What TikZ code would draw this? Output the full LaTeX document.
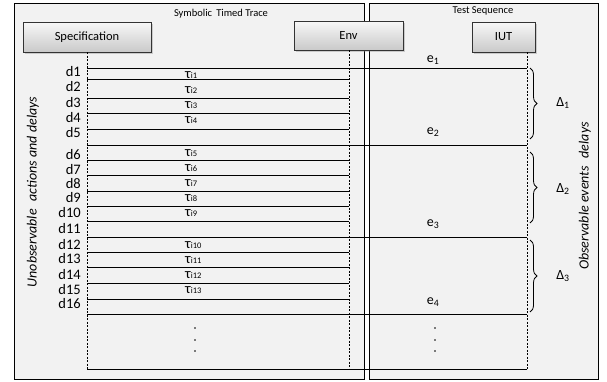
\documentclass[tikz,border=0pt]{standalone}
\usepackage{fontspec}
\setmainfont{Carlito}
\usetikzlibrary{shadows,decorations.pathreplacing}

\newcommand{\tauidx}[1]{{\fontsize{14.5}{15}\selectfont τ}\raisebox{-0.8pt}{\fontsize{8.5}{9}\selectfont i#1}}

\tikzset{
    panel/.style={draw=black, fill=gray!10, line width=0.8pt},
    lifebox/.style={rectangle, draw=black!80, top color=gray!6, bottom color=gray!42,
        drop shadow={opacity=0.35, shadow xshift=1.5pt, shadow yshift=-1.5pt},
        font=\fontsize{12.5}{14}\selectfont},
    lifeline/.style={dash pattern=on 2pt off 1.5pt, line width=0.7pt},
    msg/.style={line width=0.8pt},
    dlab/.style={anchor=east, inner sep=0pt, font=\fontsize{14.5}{15}\selectfont},
    tlab/.style={inner sep=0pt, font=\fontsize{13}{14}\selectfont},
    elab/.style={inner sep=0pt, font=\fontsize{14}{15}\selectfont},
    tbrace/.style={decorate, decoration={brace, amplitude=7pt, aspect=0.5}, line width=0.8pt},
    vlab/.style={rotate=90, inner sep=0pt, font=\itshape\fontsize{14}{15}\selectfont}
}

\begin{document}
\begin{tikzpicture}[x=1pt, y=-1pt]
    \useasboundingbox (0,0) rectangle (607,381);

    %Panels
    \draw[panel] (14,3) rectangle (364,379);
    \draw[panel] (369,3) rectangle (598,379);
    \node[font=\fontsize{10.5}{12}\selectfont] at (221,14) (ttitle) {Symbolic\, Timed Trace};
    \node[font=\fontsize{10.5}{12}\selectfont] at (483,11) (stitle) {Test Sequence};

    %Nodes
    \node[lifebox, minimum width=128, minimum height=30] at (87,37) (spec) {Specification};
    \node[lifebox, minimum width=109, minimum height=29] at (348.5,35.5) (env) {Env};
    \node[lifebox, minimum width=63, minimum height=30] at (503.5,37) (iut) {IUT};

    \coordinate (specEnd) at (87,369);
    \coordinate (envEnd) at (349,369);
    \coordinate (iutTop) at (527,52);
    \coordinate (iutEnd) at (527,369);

    %Lifelines
    \draw[lifeline] (spec.south) -- (specEnd);
    \draw[lifeline] (env.south -| envEnd) -- (envEnd);
    \draw[lifeline] (iutTop) -- (iutEnd);

    %Lines
    \foreach \y in {79,98,113,129,160,175,191,206,221,252,267,283,299}
        \draw[msg] (specEnd |- 0,\y) -- (envEnd |- 0,\y);
    \foreach \y in {68,145,237,314,369}
        \draw[msg] (specEnd |- 0,\y) -- (iutEnd |- 0,\y);

    %Delays
    \foreach \d/\y in {1/72,2/87,3/103,4/118,5/133,6/155,7/170,8/184,9/198,10/213,
                       11/229,12/245,13/259,14/275,15/290,16/304}
        \node[dlab] at (81,\y) (d\d) {d\d};

    %Internal actions
    \foreach \t/\y in {1/75,2/90,3/105,4/120,5/153,6/168,7/183,8/198,9/213,
                       10/245,11/260,12/275,13/290}
        \node[tlab, anchor=west] at (185,\y) (t\t) {\tauidx{\t}};

    %Events
    \node[elab] at (433,60) (e1) {e\textsubscript{1}};
    \node[elab] at (433,132) (e2) {e\textsubscript{2}};
    \node[elab] at (433,224) (e3) {e\textsubscript{3}};
    \node[elab] at (433,302) (e4) {e\textsubscript{4}};

    %Braces
    \draw[tbrace] (530,68) -- (530,139);
    \draw[tbrace] (530,152) -- (530,223);
    \draw[tbrace] (530,240) -- (530,312);
    \node[elab] at (563,103) (D1) {Δ\textsubscript{1}};
    \node[elab] at (563,189) (D2) {Δ\textsubscript{2}};
    \node[elab] at (563,276) (D3) {Δ\textsubscript{3}};

    %Dots
    \foreach \y in {328,340,351} {
        \fill (195,\y) circle (0.8);
        \fill (435,\y) circle (0.8);
    }

    %Side texts
    \node[vlab] at (33,192) (unobs) {Unobservable\,\, actions and delays};
    \node[vlab] at (585,196) (obs) {Observable events\,\, delays};

\end{tikzpicture}
\end{document}
